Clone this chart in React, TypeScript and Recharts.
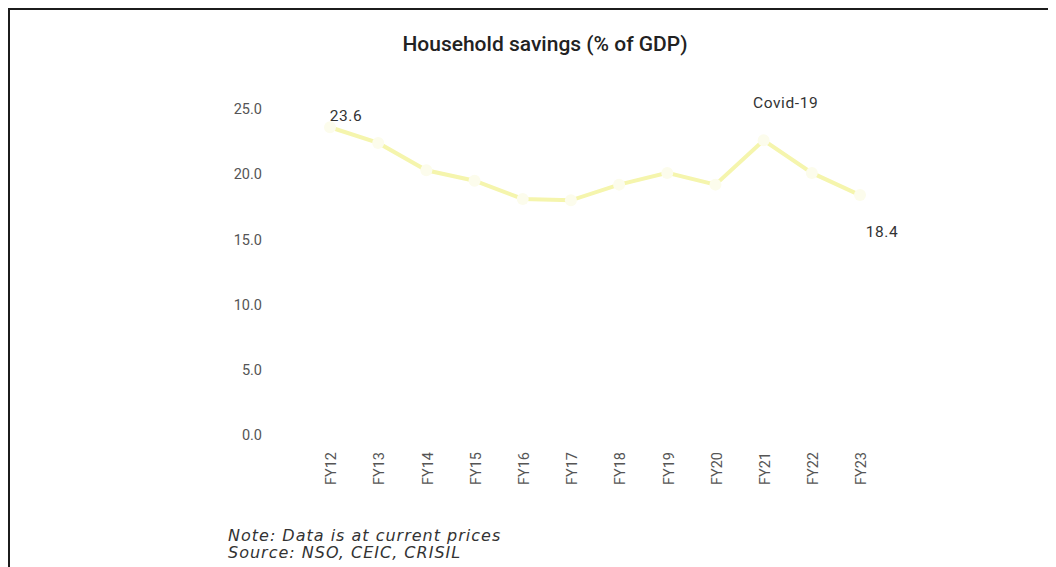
import { LabelList, Line, LineChart, XAxis, YAxis } from "recharts";

const years = ["FY12", "FY13", "FY14", "FY15", "FY16", "FY17", "FY18", "FY19", "FY20", "FY21", "FY22", "FY23"];
const savings = [23.6, 22.4, 20.3, 19.5, 18.1, 18.0, 19.2, 20.1, 19.2, 22.6, 20.1, 18.4];
const callouts = ["23.6", "", "", "", "", "", "", "", "", "Covid-19", "", "18.4"];
const yTicks = [0, 5, 10, 15, 20, 25];

const data = years.map((year, i) => ({ year, savings: savings[i], note: callouts[i] }));

const FONT = "Roboto, 'Noto Sans', sans-serif";
const LINE = "#f5f5ad";

// where each callout sits relative to its point
const offsets: Record<number, [number, number]> = {
  0: [16, -10],
  9: [22, -36],
  11: [22, 38],
};

function Callout(props: any) {
  const { x, y, value, index } = props;
  if (!value) return null;
  const [dx, dy] = offsets[index] ?? [0, -12];
  return (
    <text
      x={x + dx}
      y={y + dy}
      textAnchor="middle"
      dominantBaseline="middle"
      fontSize={15.5}
      letterSpacing={0.6}
      fontFamily={FONT}
      fill="#333"
    >
      {value}
    </text>
  );
}

export default function App() {
  return (
    <div style={{ position: "relative", width: 1048, height: 559, fontFamily: FONT }}>
      <div
        style={{
          position: "absolute",
          left: 0,
          top: 0,
          width: 1048,
          height: 2,
          background: "#1c1c1c",
          zIndex: 2,
        }}
      />
      <div
        style={{
          position: "absolute",
          left: 0,
          top: 0,
          width: 2,
          height: 559,
          background: "#1c1c1c",
          zIndex: 2,
        }}
      />
      <div
        style={{
          position: "absolute",
          left: 0,
          width: 1074,
          top: 24,
          textAlign: "center",
          fontSize: 21,
          fontWeight: 500,
          color: "#222",
          zIndex: 2,
        }}
      >
        Household savings (% of GDP)
      </div>
      <LineChart
        width={1048}
        height={559}
        data={data}
        margin={{ top: 101, right: 196, left: 0, bottom: 0 }}
      >
        <XAxis
          dataKey="year"
          axisLine={false}
          tickLine={false}
          interval={0}
          height={132}
          tickSize={0}
          tickMargin={12}
          angle={-90}
          textAnchor="end"
          tick={{ fontSize: 14.5, fill: "#555", fontFamily: FONT, dy: 5, dx: -4 }}
        />
        <YAxis
          domain={[0, 25]}
          ticks={yTicks}
          axisLine={false}
          tickLine={false}
          width={322}
          tickSize={0}
          tickMargin={68}
          tickFormatter={(v: number) => v.toFixed(1)}
          tick={{ fontSize: 14.5, fill: "#555", fontFamily: FONT }}
        />
        <Line
          type="linear"
          dataKey="savings"
          stroke={LINE}
          strokeWidth={4}
          dot={{ r: 6, fill: "#fcfcec", stroke: "none" }}
          isAnimationActive={false}
        >
          <LabelList dataKey="note" content={<Callout />} />
        </Line>
      </LineChart>
      <div
        style={{
          position: "absolute",
          left: 220,
          top: 519,
          fontSize: 16,
          letterSpacing: 1,
          fontStyle: "italic",
          color: "#333",
          lineHeight: "17px",
          fontFamily: "'DejaVu Sans', sans-serif",
          zIndex: 2,
        }}
      >
        Note: Data is at current prices
        <br />
        Source: NSO, CEIC, CRISIL
      </div>
    </div>
  );
}
